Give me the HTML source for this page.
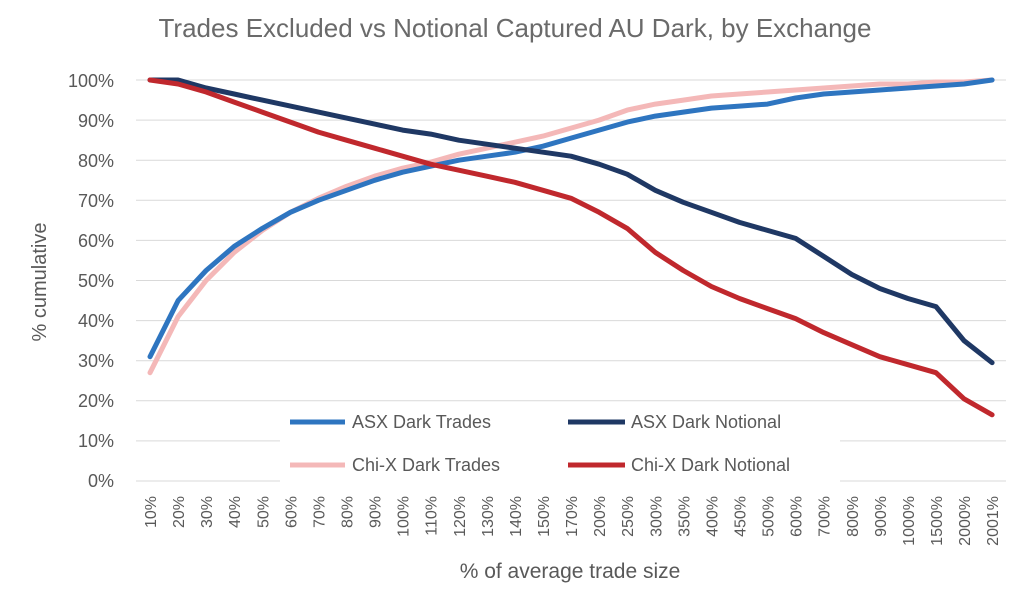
<!DOCTYPE html>
<html><head><meta charset="utf-8"><style>
body{margin:0;background:#fff;}
svg{display:block;font-family:"Liberation Sans",sans-serif;fill:#595959;}
</style></head><body>
<svg id="s" width="1024" height="594" viewBox="0 0 1024 594">
<rect width="1024" height="594" fill="#fff"/>
<text x="515" y="37" font-size="26" text-anchor="middle" fill="#6a6a6a">Trades Excluded vs Notional Captured AU Dark, by Exchange</text>
<g id="grid" stroke="#d9d9d9" stroke-width="1"></g>
<g font-size="18" text-anchor="end" fill="#595959">
<text x="114" y="87">100%</text><text x="114" y="127">90%</text><text x="114" y="167">80%</text><text x="114" y="207">70%</text><text x="114" y="247">60%</text><text x="114" y="287">50%</text><text x="114" y="327">40%</text><text x="114" y="367">30%</text><text x="114" y="407">20%</text><text x="114" y="447">10%</text><text x="114" y="487">0%</text>
</g>
<text transform="translate(46,282) rotate(-90)" font-size="20" text-anchor="middle">% cumulative</text>
<text x="570" y="578" font-size="21" text-anchor="middle">% of average trade size</text>
<g id="xl" font-size="16" text-anchor="end"></g>
<g id="lines" fill="none" stroke-width="5" stroke-linejoin="round" stroke-linecap="round"></g>
<rect x="280" y="402" width="560" height="80" fill="#fff"/>
<g stroke-width="5">
<line x1="290" y1="422" x2="345" y2="422" stroke="#2e75c0"/>
<line x1="568" y1="422" x2="625" y2="422" stroke="#1f3864"/>
<line x1="290" y1="465" x2="345" y2="465" stroke="#f4b8b8"/>
<line x1="568" y1="465" x2="625" y2="465" stroke="#c0282d"/>
</g>
<g font-size="18">
<text x="352" y="428">ASX Dark Trades</text>
<text x="631" y="428">ASX Dark Notional</text>
<text x="352" y="471">Chi-X Dark Trades</text>
<text x="631" y="471">Chi-X Dark Notional</text>
</g>
</svg>
<script>
var NS="http://www.w3.org/2000/svg";
var cats=["10%","20%","30%","40%","50%","60%","70%","80%","90%","100%","110%","120%","130%","140%","150%","170%","200%","250%","300%","350%","400%","450%","500%","600%","700%","800%","900%","1000%","1500%","2000%","2001%"];
var g=document.getElementById("grid");
for(var i=0;i<=10;i++){var y=481-i*40.1;var l=document.createElementNS(NS,"line");l.setAttribute("x1",136);l.setAttribute("x2",1006);l.setAttribute("y1",y);l.setAttribute("y2",y);g.appendChild(l);}
var xl=document.getElementById("xl");
cats.forEach(function(c,i){var x=150+28.07*i;var t=document.createElementNS(NS,"text");t.setAttribute("transform","translate("+(x+6)+",496) rotate(-90)");t.textContent=c;xl.appendChild(t);});
var data=[
["#f4b8b8",[27,41,50,57,62.5,67,70.5,73.5,76,78,79.5,81.5,83,84.5,86,88,90,92.5,94,95,96,96.5,97,97.5,98,98.5,99,99,99.5,99.5,100]],
["#2e75c0",[31,45,52.5,58.5,63,67,70,72.5,75,77,78.5,80,81,82,83.5,85.5,87.5,89.5,91,92,93,93.5,94,95.5,96.5,97,97.5,98,98.5,99,100]],
["#1f3864",[100,100,98,96.5,95,93.5,92,90.5,89,87.5,86.5,85,84,83,82,81,79,76.5,72.5,69.5,67,64.5,62.5,60.5,56,51.5,48,45.5,43.5,35,29.5]],
["#c0282d",[100,99,97,94.5,92,89.5,87,85,83,81,79,77.5,76,74.5,72.5,70.5,67,63,57,52.5,48.5,45.5,43,40.5,37,34,31,29,27,20.5,16.5]]];
var lg=document.getElementById("lines");
data.forEach(function(d){var p=d[1].map(function(v,i){return (150+28.07*i).toFixed(1)+","+(481-4.01*v).toFixed(1);}).join(" ");var pl=document.createElementNS(NS,"polyline");pl.setAttribute("points",p);pl.setAttribute("stroke",d[0]);lg.appendChild(pl);});
</script>
</body></html>
